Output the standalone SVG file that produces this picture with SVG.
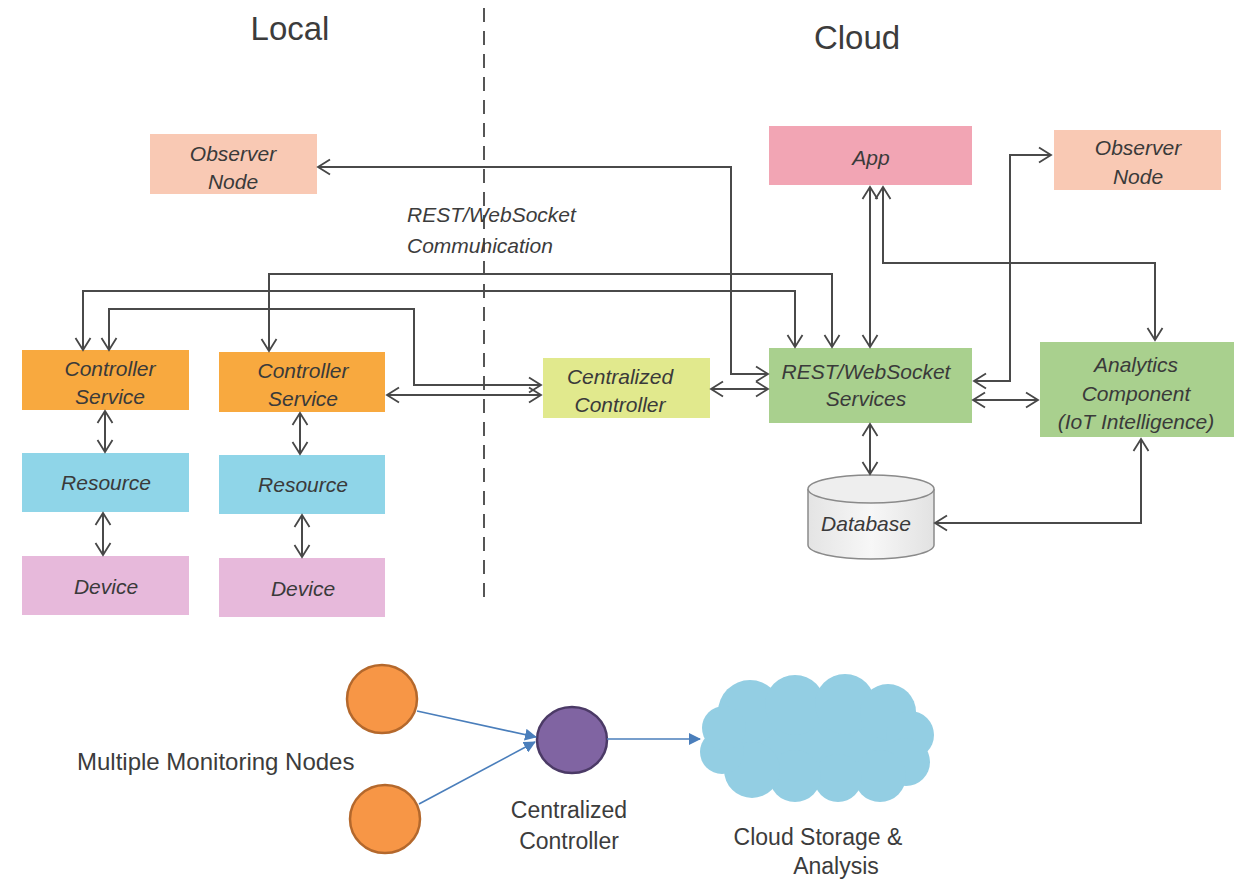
<svg xmlns="http://www.w3.org/2000/svg" width="1234" height="880" viewBox="0 0 1234 880">
<defs>
<marker id="ah" markerUnits="userSpaceOnUse" markerWidth="16" markerHeight="18" refX="13" refY="9" orient="auto-start-reverse"><path d="M1,1.5 L13,9 L1,16.5" fill="none" stroke="#474747" stroke-width="1.8"/></marker>
<marker id="bh" markerUnits="userSpaceOnUse" markerWidth="12" markerHeight="12" refX="11" refY="6" orient="auto"><path d="M0,0 L12,6 L0,12 z" fill="#4a7ebb"/></marker>
<linearGradient id="dbg" x1="0" y1="0" x2="1" y2="0"><stop offset="0" stop-color="#e4e4e4"/><stop offset="0.5" stop-color="#f7f7f7"/><stop offset="1" stop-color="#e2e2e2"/></linearGradient>
</defs>
<style>
.box text{font-family:"Liberation Sans",Arial,sans-serif;font-style:italic;font-size:21px;fill:#3a3a3a;text-anchor:middle}
.conn path{fill:none;stroke:#4a4a4a;stroke-width:2;marker-start:url(#ah);marker-end:url(#ah)}
.blue path{fill:none;stroke:#4a7ebb;stroke-width:1.6;marker-end:url(#bh)}
.lbl{font-family:"Liberation Sans",Arial,sans-serif;fill:#3c3c3c}
.obs{fill:#f9c9b4}.app{fill:#f2a5b4}.cc{fill:#e1e98d}.grn{fill:#a9d08e}.cs{fill:#f8a93f}.res{fill:#8fd5e8}.dev{fill:#e7b9db}
</style>
<rect width="1234" height="880" fill="#ffffff"/>

<text class="lbl" x="290" y="40" font-size="33" text-anchor="middle">Local</text>
<text class="lbl" x="857" y="49" font-size="33" text-anchor="middle">Cloud</text>
<line x1="484" y1="8" x2="484" y2="606" stroke="#555" stroke-width="2" stroke-dasharray="14 9"/>

<text class="lbl" x="407" y="222" font-size="21" font-style="italic">REST/WebSocket</text>
<text class="lbl" x="407" y="253" font-size="21" font-style="italic">Communication</text>

<g id="observer-left" class="box"><rect class="obs" x="150" y="134" width="167" height="60"/><text x="233" y="161">Observer</text><text x="233" y="189">Node</text></g>
<g id="app" class="box"><rect class="app" x="769" y="126" width="203" height="59"/><text x="871" y="165">App</text></g>
<g id="observer-right" class="box"><rect class="obs" x="1054" y="130" width="167" height="60"/><text x="1138" y="155">Observer</text><text x="1138" y="184">Node</text></g>
<g id="centralized-controller" class="box"><rect class="cc" x="543" y="358" width="167" height="60"/><text x="620" y="384">Centralized</text><text x="620" y="412">Controller</text></g>
<g id="rest-services" class="box"><rect class="grn" x="769" y="348" width="203" height="75"/><text x="866" y="379">REST/WebSocket</text><text x="866" y="406">Services</text></g>
<g id="analytics" class="box"><rect class="grn" x="1040" y="342" width="194" height="95"/><text x="1136" y="372">Analytics</text><text x="1136" y="401">Component</text><text x="1136" y="429">(IoT Intelligence)</text></g>
<g id="database" class="box"><path d="M808,489 V545 A63,14 0 0 0 934,545 V489" fill="url(#dbg)" stroke="#8a8a8a" stroke-width="1.5"/><ellipse cx="871" cy="489" rx="63" ry="14" fill="#eeeeee" stroke="#8a8a8a" stroke-width="1.5"/><text x="866" y="531">Database</text></g>
<g id="controller-service-1" class="box"><rect class="cs" x="22" y="350" width="167" height="60"/><text x="110" y="376">Controller</text><text x="110" y="404">Service</text></g>
<g id="controller-service-2" class="box"><rect class="cs" x="219" y="352" width="166" height="60"/><text x="303" y="378">Controller</text><text x="303" y="406">Service</text></g>
<g id="resource-1" class="box"><rect class="res" x="22" y="453" width="167" height="59"/><text x="106" y="490">Resource</text></g>
<g id="resource-2" class="box"><rect class="res" x="219" y="455" width="166" height="59"/><text x="303" y="492">Resource</text></g>
<g id="device-1" class="box"><rect class="dev" x="22" y="556" width="167" height="59"/><text x="106" y="594">Device</text></g>
<g id="device-2" class="box"><rect class="dev" x="219" y="558" width="166" height="59"/><text x="303" y="596">Device</text></g>

<g id="connectors" class="conn">
<path d="M318,167 H731 V374 H768"/>
<path d="M711,389 H768"/>
<path d="M83,350 V291 H795 V347"/>
<path d="M269,351 V274 H832 V347"/>
<path d="M109,350 V309 H414 V385 H541"/>
<path d="M387,395 H541"/>
<path d="M870,187 V347"/>
<path d="M883,187 V263 H1155 V340"/>
<path d="M974,381 H1010 V155 H1051"/>
<path d="M973,400 H1038"/>
<path d="M870,424 V474"/>
<path d="M935,523 H1141 V439"/>
<path d="M105,411 V452"/>
<path d="M103,513 V555"/>
<path d="M300,413 V454"/>
<path d="M302,515 V557"/>
</g>

<g id="monitor-node-1"><ellipse cx="382" cy="699" rx="35" ry="34" fill="#f79646" stroke="#b4682c" stroke-width="2.5"/></g>
<g id="monitor-node-2"><ellipse cx="385" cy="819" rx="35" ry="34" fill="#f79646" stroke="#b4682c" stroke-width="2.5"/></g>
<g id="central-node"><ellipse cx="572" cy="740" rx="35" ry="33" fill="#8064a2" stroke="#4b3a66" stroke-width="2.5"/></g>
<g id="cloud" fill="#93cee3">
<ellipse cx="817" cy="738" rx="105" ry="48"/>
<circle cx="750" cy="712" r="32"/><circle cx="795" cy="705" r="30"/><circle cx="845" cy="704" r="30"/><circle cx="888" cy="712" r="28"/><circle cx="910" cy="735" r="24"/><circle cx="906" cy="762" r="24"/>
<circle cx="880" cy="776" r="26"/><circle cx="838" cy="778" r="24"/><circle cx="795" cy="776" r="26"/><circle cx="752" cy="770" r="28"/><circle cx="722" cy="752" r="22"/><circle cx="724" cy="728" r="22"/>
</g>
<g id="bottom-connectors" class="blue">
<path d="M417,711 L536,737"/>
<path d="M419,804 L535,742"/>
<path d="M607,739 L700,739"/>
</g>
<text class="lbl" x="77" y="770" font-size="24">Multiple Monitoring Nodes</text>
<text class="lbl" x="569" y="818" font-size="23" text-anchor="middle">Centralized</text>
<text class="lbl" x="569" y="849" font-size="23" text-anchor="middle">Controller</text>
<text class="lbl" x="818" y="845" font-size="23" text-anchor="middle">Cloud Storage &amp;</text>
<text class="lbl" x="836" y="874" font-size="23" text-anchor="middle">Analysis</text>
</svg>
